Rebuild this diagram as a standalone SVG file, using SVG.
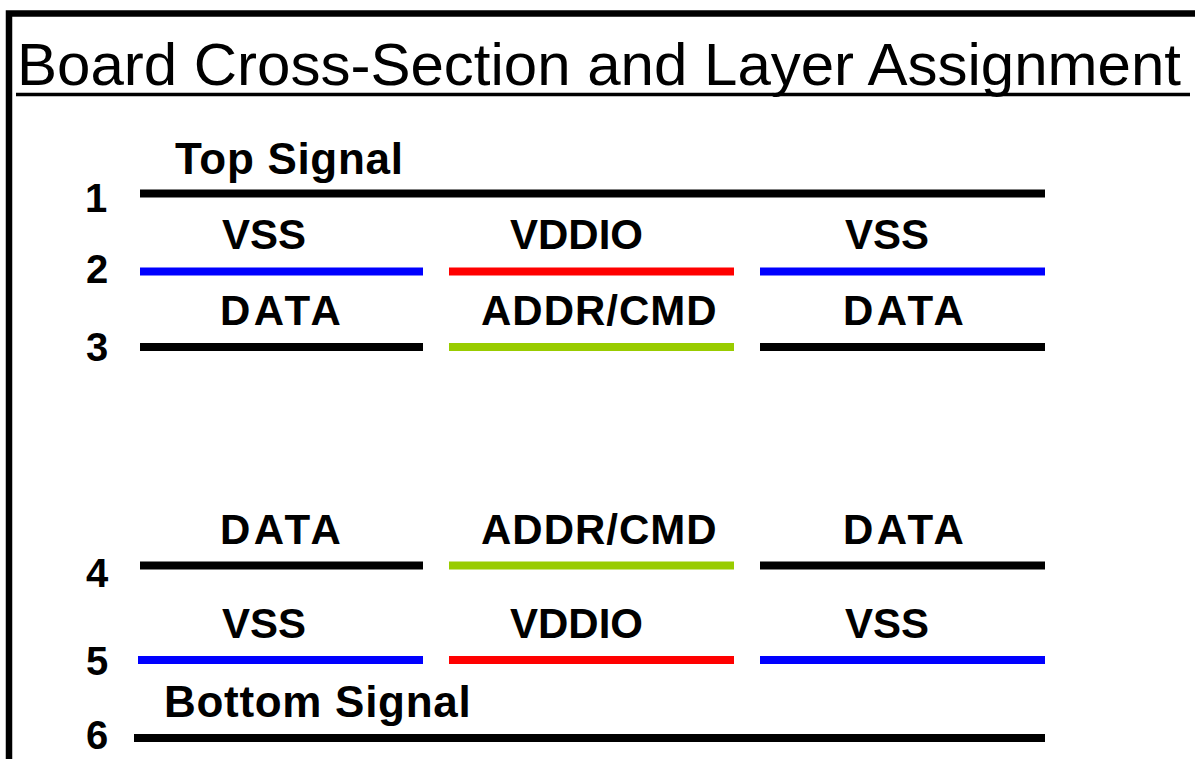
<svg xmlns="http://www.w3.org/2000/svg" width="1195" height="759" viewBox="0 0 1195 759">
<style>
.title{font-family:"Liberation Sans",Arial,sans-serif;font-size:60px;fill:#000}
.lbl{font-family:"Liberation Sans",Arial,sans-serif;font-weight:bold;font-size:42px;fill:#000}
.mid{letter-spacing:1px}
.wide{letter-spacing:3.5px}
.big{font-family:"Liberation Sans",Arial,sans-serif;font-weight:bold;font-size:44px;fill:#000;letter-spacing:0.7px}
.num{font-family:"Liberation Sans",Arial,sans-serif;font-weight:bold;font-size:40px;fill:#000;text-anchor:middle}
.ln{stroke-width:8;fill:none}
.k{stroke:#000}
.b{stroke:#0000FF}
.r{stroke:#FF0000}
.g{stroke:#99CC00}
</style>
<rect x="0" y="0" width="1195" height="759" fill="#fff"/>
<g id="frame">
<path d="M9 759 V13.5 H1195" fill="none" stroke="#000" stroke-width="6.5"/>
</g>
<g id="title">
<text class="title" x="17" y="85">Board Cross-Section and Layer Assignment</text>
<line x1="16" y1="94.5" x2="1190" y2="94.5" stroke="#000" stroke-width="3.5"/>
</g>
<g id="layer-numbers">
<text class="num" x="96" y="212">1</text>
<text class="num" x="97" y="283">2</text>
<text class="num" x="97" y="361">3</text>
<text class="num" x="97" y="587">4</text>
<text class="num" x="97" y="675">5</text>
<text class="num" x="97" y="749">6</text>
</g>
<g id="layer1">
<text class="big" x="175" y="174">Top Signal</text>
<line class="ln k" x1="140" y1="193.5" x2="1045" y2="193.5"/>
</g>
<g id="layer2">
<text class="lbl" x="222" y="249">VSS</text>
<text class="lbl" x="510" y="249">VDDIO</text>
<text class="lbl" x="845" y="249">VSS</text>
<line class="ln b" x1="140" y1="271.5" x2="423" y2="271.5"/>
<line class="ln r" x1="449" y1="271.5" x2="734" y2="271.5"/>
<line class="ln b" x1="760" y1="271.5" x2="1045" y2="271.5"/>
</g>
<g id="layer3">
<text class="lbl wide" x="220" y="325">DATA</text>
<text class="lbl mid" x="481" y="325">ADDR/CMD</text>
<text class="lbl wide" x="843" y="325">DATA</text>
<line class="ln k" x1="140" y1="347" x2="423" y2="347"/>
<line class="ln g" x1="449" y1="347" x2="734" y2="347"/>
<line class="ln k" x1="760" y1="347" x2="1045" y2="347"/>
</g>
<g id="layer4">
<text class="lbl wide" x="220" y="544">DATA</text>
<text class="lbl mid" x="481" y="544">ADDR/CMD</text>
<text class="lbl wide" x="843" y="544">DATA</text>
<line class="ln k" x1="140" y1="565.5" x2="423" y2="565.5"/>
<line class="ln g" x1="449" y1="565.5" x2="734" y2="565.5"/>
<line class="ln k" x1="760" y1="565.5" x2="1045" y2="565.5"/>
</g>
<g id="layer5">
<text class="lbl" x="222" y="638">VSS</text>
<text class="lbl" x="510" y="638">VDDIO</text>
<text class="lbl" x="845" y="638">VSS</text>
<line class="ln b" x1="138" y1="660" x2="423" y2="660"/>
<line class="ln r" x1="449" y1="660" x2="734" y2="660"/>
<line class="ln b" x1="760" y1="660" x2="1045" y2="660"/>
</g>
<g id="layer6">
<text class="big" x="164" y="717">Bottom Signal</text>
<line class="ln k" x1="134" y1="738" x2="1045" y2="738"/>
</g>
</svg>
